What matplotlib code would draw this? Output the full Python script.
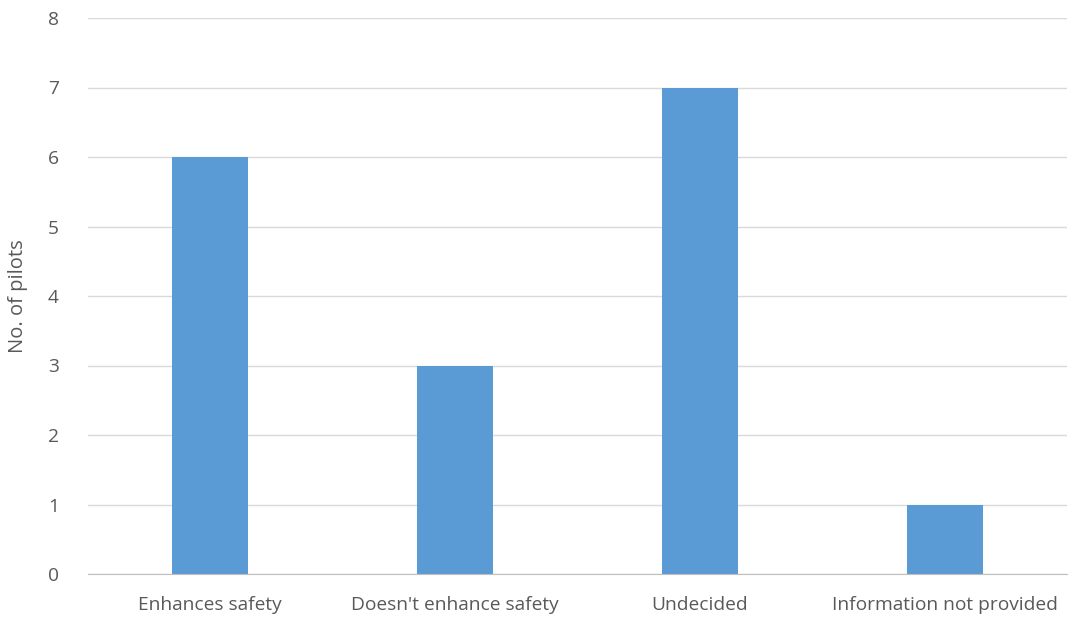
import matplotlib
matplotlib.use("Agg")
import matplotlib.pyplot as plt

categories = ["Enhances safety", "Doesn't enhance safety", "Undecided", "Information not provided"]
values = [6, 3, 7, 1]
yticks = [0, 1, 2, 3, 4, 5, 6, 7, 8]

plt.rcParams['font.family'] = ['Open Sans', 'DejaVu Sans']

fig = plt.figure(figsize=(10.74, 6.17), dpi=100)
ax = fig.add_axes([88/1074, 1-574/617, (1067-88)/1074, (574-18)/617])

x = list(range(len(categories)))
ax.bar(x, values, width=0.31, color="#5B9BD5", zorder=3)
ax.set_xlim(-0.5, len(categories)-0.5)
ax.set_ylim(0, 8)
ax.set_yticks(yticks)
ax.set_xticks(x)
ax.set_xticklabels(categories)
ax.grid(axis='y', color="#D9D9D9", linewidth=1, zorder=0)
for s in ['top', 'right', 'left']:
    ax.spines[s].set_visible(False)
ax.spines['bottom'].set_color("#BFBFBF")
ax.spines['bottom'].set_zorder(4)
ax.tick_params(axis='both', length=0, colors="#595959", labelsize=13.8)
ax.tick_params(axis='y', pad=21)
ax.tick_params(axis='x', pad=16)
ax.set_ylabel("No. of pilots", color="#595959", fontsize=14.5, labelpad=14)

fig.savefig("out.png", dpi=100)
